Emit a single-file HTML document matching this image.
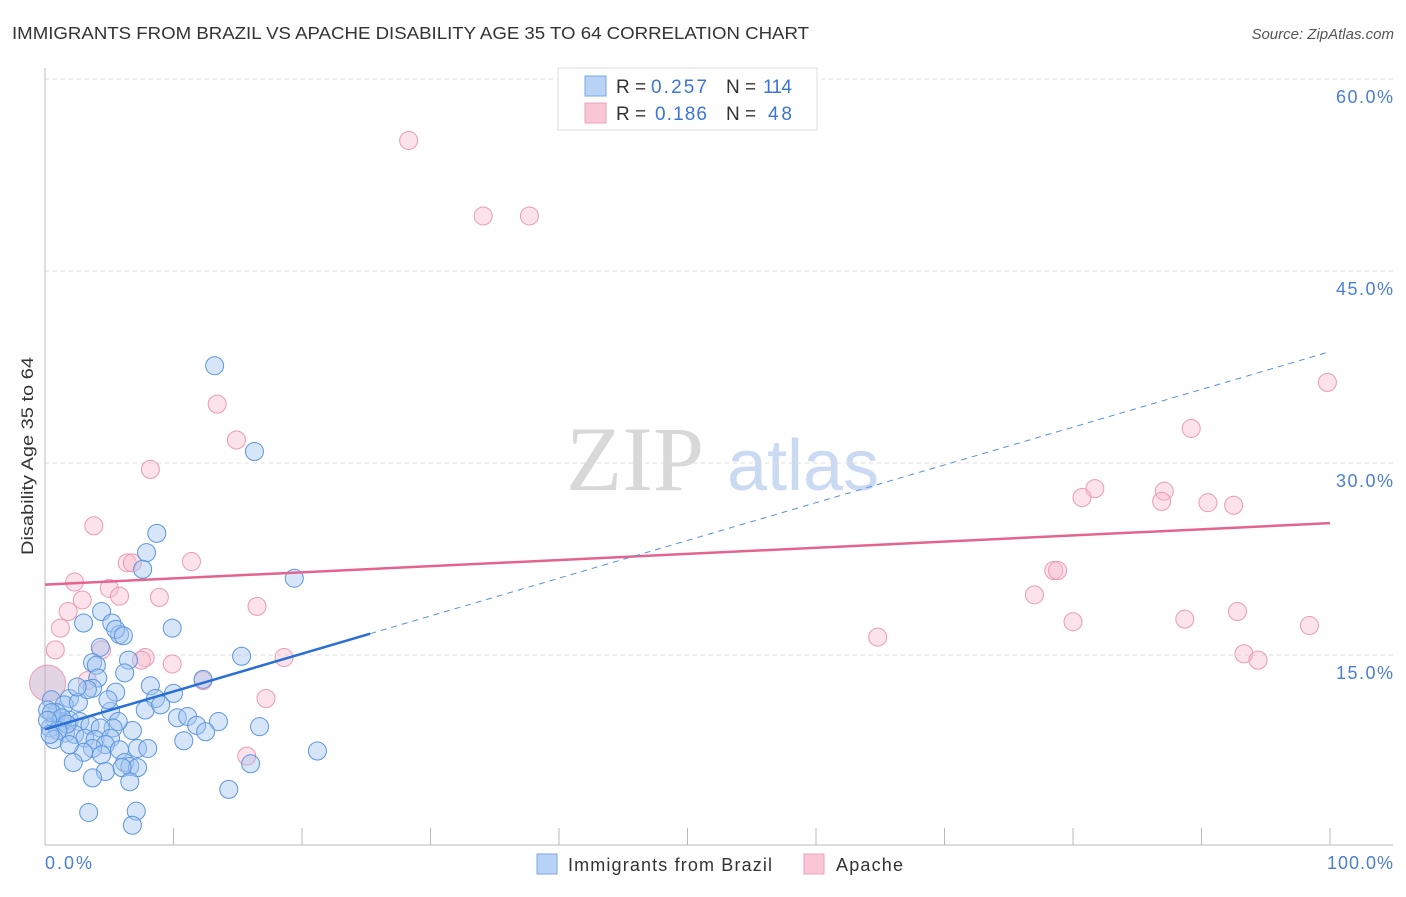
<!DOCTYPE html>
<html><head><meta charset="utf-8"><style>
body{margin:0;background:#fff;font-family:"Liberation Sans",sans-serif}
</style></head><body>
<svg width="1406" height="892" xmlns="http://www.w3.org/2000/svg">
<text x="12" y="39" font-size="17.5" fill="#333" textLength="797" lengthAdjust="spacingAndGlyphs">IMMIGRANTS FROM BRAZIL VS APACHE DISABILITY AGE 35 TO 64 CORRELATION CHART</text>
<text x="1394" y="39" font-size="15" fill="#555" font-style="italic" text-anchor="end">Source: ZipAtlas.com</text>
<g><text x="635" y="490" font-size="92" fill="#d8d8d8" font-family="Liberation Serif" text-anchor="middle">ZIP</text><text x="803" y="490" font-size="72" fill="#c9daf2" text-anchor="middle">atlas</text></g>
<g id="grid"></g>
<line x1="45" y1="68" x2="45" y2="845" stroke="#bbb"/>
<line x1="45" y1="845" x2="1393" y2="845" stroke="#bbb"/>
<text transform="translate(33,456) rotate(-90)" font-size="17" fill="#333" text-anchor="middle" textLength="198" lengthAdjust="spacingAndGlyphs">Disability Age 35 to 64</text>
<text x="45" y="869" font-size="18" fill="#4a7fd4" textLength="47">0.0%</text>
<text x="1327" y="869" font-size="18" fill="#4a7fd4" textLength="66">100.0%</text>
<g id="pts"></g>
<g id="trend"></g>
<g>
<rect x="558" y="68" width="259" height="62" fill="#fff" stroke="#ddd"/>
<rect x="585" y="76" width="21" height="20" fill="#b8d3f5" stroke="#7aaae6"/>
<rect x="585" y="103" width="21" height="20" fill="#f9c6d5" stroke="#eda0b8"/>
<g font-size="19" fill="#333">
<text x="616" y="93">R =</text><text x="651" y="93" fill="#3a75d4" textLength="56">0.257</text>
<text x="726" y="93">N =</text><text x="763" y="93" fill="#3a75d4" textLength="29">114</text>
<text x="616" y="120">R =</text><text x="655" y="120" fill="#3a75d4" textLength="52">0.186</text>
<text x="726" y="120">N =</text><text x="768" y="120" fill="#3a75d4" textLength="24">48</text>
</g>
</g>
<g>
<rect x="537" y="854" width="20" height="20" fill="#b8d3f5" stroke="#7aaae6"/>
<text x="568" y="871" font-size="18" fill="#333" textLength="204">Immigrants from Brazil</text>
<rect x="804" y="854" width="20" height="20" fill="#f9c6d5" stroke="#eda0b8"/>
<text x="836" y="871" font-size="18" fill="#333" textLength="67">Apache</text>
</g>
</svg>
<script>
const yTicks=[15,30,45,60];
const yTickLabels=["15.0%","30.0%","45.0%","60.0%"];
const xTicks=[0,10,20,30,40,50,60,70,80,90,100];
const blueX=[13.2,16.3,8.7,7.9,7.6,19.4,4.4,3.0,5.2,9.9,5.8,5.5,6.1,4.3,6.5,15.3,3.7,4.0,6.2,4.1,3.7,5.5,8.2,12.3,10.0,8.6,7.8,9.0,5.1,1.9,0.5,1.5,2.6,10.3,11.1,13.5,11.8,12.5,16.7,6.8,5.7,5.3,0.8,1.2,1.9,2.7,3.5,4.3,0.4,1.6,2.3,3.1,3.9,5.1,4.7,5.8,7.2,8.0,3.7,3.0,4.4,2.2,6.2,6.6,7.2,4.7,6.0,3.7,6.6,14.3,16.0,21.2,10.8,3.4,7.1,6.8,0.9,0.2,0.5,1.3,3.3,2.5,1.7,1.0,0.7,0.2,0.4,1.9,4.9];
const blueY=[37.6,30.9,24.5,23.0,21.7,21.0,18.4,17.5,17.5,17.1,16.6,17.0,16.5,15.6,14.6,14.9,14.4,14.2,13.6,13.2,12.4,12.1,12.6,13.1,12.0,11.6,10.7,11.1,10.6,11.6,11.5,11.1,11.3,10.1,10.2,9.8,9.5,9.0,9.4,9.1,9.8,9.3,9.9,9.8,9.9,9.8,9.5,9.3,9.3,8.9,8.8,8.5,8.4,8.5,8.0,7.6,7.7,7.7,7.7,7.4,7.2,6.6,6.6,6.3,6.2,5.9,6.2,5.4,5.1,4.5,6.5,7.5,8.3,2.7,2.8,1.7,10.5,10.7,10.5,10.1,12.3,12.5,9.6,9.1,8.4,9.9,8.8,8.0,11.5];
const pinkX=[28.3,34.1,37.7,99.8,13.4,14.9,8.2,89.2,81.7,80.7,87.1,86.9,90.5,92.5,3.8,2.3,6.4,6.8,11.4,5.0,5.8,8.9,2.9,1.8,16.5,1.2,0.8,4.4,7.8,7.5,9.9,12.3,18.6,17.2,15.7,64.8,77.0,78.5,78.8,80.0,88.7,92.8,93.3,94.4,98.4,3.3,0.2];
const pinkY=[55.2,49.3,49.3,36.3,34.6,31.8,29.5,32.7,28.0,27.3,27.8,27.0,26.9,26.7,25.1,20.7,22.2,22.2,22.3,20.2,19.6,19.5,19.3,18.4,18.8,17.1,15.4,15.4,14.8,14.6,14.3,13.0,14.8,11.6,7.1,16.4,19.7,21.6,21.6,17.6,17.8,18.4,15.1,14.6,17.3,13.0,12.8];
const blueTrend=[9.2,38.7];
const pinkTrend=[20.5,25.3];
const blueSolidEnd=25.3;
const NS="http://www.w3.org/2000/svg";
function X(v){return 45+v*12.85;}
function Y(v){return 847-v*12.8;}
function mk(t,a,p){const e=document.createElementNS(NS,t);for(const k in a)e.setAttribute(k,a[k]);p.appendChild(e);return e;}
const grid=document.getElementById('grid');
yTicks.forEach((t,i)=>{
 const l=mk('line',{x1:45,x2:1393,y1:Y(t),y2:Y(t),stroke:'#ddd','stroke-dasharray':'4,4'},grid);
 
 
 const tx=mk('text',{x:1336,y:Y(t)+24,'font-size':18,fill:'#4a7fd4',textLength:57},grid);
 tx.textContent=yTickLabels[i];
 
 
});
xTicks.forEach(t=>{
 const l=mk('line',{x1:X(t),x2:X(t),y1:828,y2:845,stroke:'#bbb'},grid);
 
 
});
const pts=document.getElementById('pts');
pinkX.forEach((v,i)=>{
 const big=(i===pinkX.length-1);
 const c=mk('circle',{cx:X(v),cy:Y(pinkY[i]),r:big?18:9,fill:big?'rgba(200,170,200,0.5)':'rgba(248,190,208,0.45)',stroke:'#eb9ab3','stroke-width':1},pts);
 
 
});
blueX.forEach((v,i)=>{
 const c=mk('circle',{cx:X(v),cy:Y(blueY[i]),r:9,fill:'rgba(165,198,240,0.45)',stroke:'#5c95e2','stroke-width':1},pts);
 
 
});
const tr=document.getElementById('trend');
const pl=mk('line',{x1:X(0),y1:Y(pinkTrend[0]),x2:X(100),y2:Y(pinkTrend[1]),stroke:'#e4648f','stroke-width':2.5},tr);


const bAt=v=>blueTrend[0]+(blueTrend[1]-blueTrend[0])*v/100;
const bs=mk('line',{x1:X(0),y1:Y(bAt(0)),x2:X(blueSolidEnd),y2:Y(bAt(blueSolidEnd)),stroke:'#2a6fd6','stroke-width':2.5},tr);


const bd=mk('line',{x1:X(blueSolidEnd),y1:Y(bAt(blueSolidEnd)),x2:X(100),y2:Y(bAt(100)),stroke:'#5a90dd','stroke-width':1,'stroke-dasharray':'6,5'},tr);


</script>
</body></html>
